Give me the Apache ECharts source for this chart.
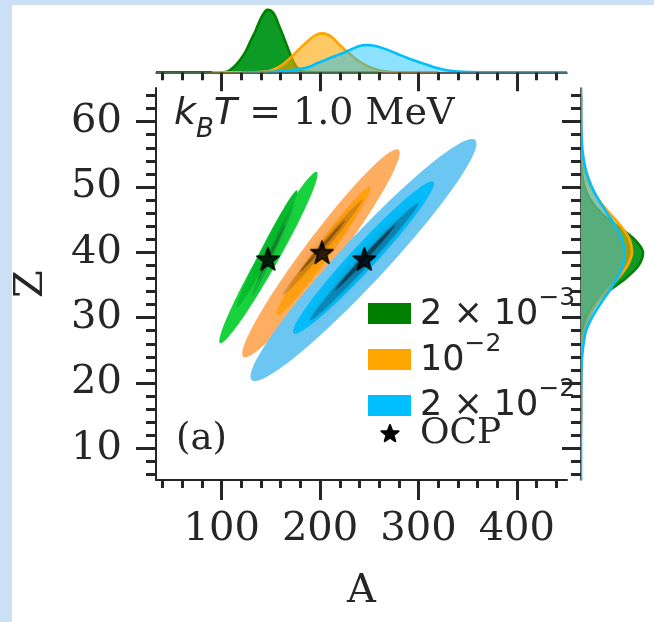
<!DOCTYPE html>
<html>
<head>
<meta charset="utf-8">
<script src="https://cdn.jsdelivr.net/npm/echarts@6/dist/echarts.min.js"></script>
<style>
  html, body { margin: 0; padding: 0; background: #cbe0f5; }
  #chart { width: 654px; height: 622px; }
</style>
</head>
<body>
<div id="chart"></div>
<script>
// ---------------- data ----------------
// axis extents (mass number A, charge Z)
const aRange = [33.2, 451];
const zRange = [5.15, 65.15];

// tick marks
const aMajorTicks = [100, 200, 300, 400];
const aMinorTicks = [40, 60, 80, 120, 140, 160, 180, 220, 240, 260, 280, 320, 340, 360, 380, 420, 440];
const zMajorTicks = [10, 20, 30, 40, 50, 60];
const zMinorTicks = [6, 8, 12, 14, 16, 18, 22, 24, 26, 28, 32, 34, 36, 38, 42, 44, 46, 48, 52, 54, 56, 58, 62, 64];

// series names and colours (2e-3, 1e-2, 2e-2)
const seriesNames = ['2e-3', '1e-2', '2e-2'];
const seriesColors = ['#008000', '#ffa500', '#00bfff'];

// OCP reference nuclei
const ocpA = [147, 202, 245];
const ocpZ = [39, 40, 39];

// KDE contour extents: each level is [A_low, Z_low, A_high, Z_high] along the long axis, outer -> inner
const contoursGreen  = [[98.3, 26.1, 196.7, 52.3], [115.6, 31.6, 176.6, 49.5], [130.9, 33.3, 172.6, 47.2], [137.0, 35.8, 164.4, 44.2]];
const contoursOrange = [[122.0, 24.0, 279.7, 55.7], [156.0, 30.4, 250.9, 50.0], [162.4, 33.5, 242.8, 48.0], [179.7, 37.0, 225.5, 44.9]];
const contoursBlue   = [[130.5, 20.45, 357.7, 57.2], [172.9, 27.6, 315.3, 50.8], [189.9, 29.6, 299.7, 47.5], [215.3, 34.2, 276.3, 44.2]];

// marginal density of A (per mille)
const margAGreenA  = [33.2, 100, 106, 112, 118, 124, 130, 134, 138, 142, 146, 150, 154, 158, 162, 168, 172, 176, 182, 190, 200, 260];
const margAGreenD  = [0, 0, 0.4, 2.6, 6.0, 10.5, 17.0, 21.0, 26.0, 30.0, 32.5, 32.0, 29.5, 24.5, 19.5, 11.5, 6.5, 2.8, 0.6, 0.1, 0, 0];
const margAOrangeA = [90, 130, 140, 150, 160, 170, 180, 190, 195, 201.5, 208, 213, 218, 224, 230, 236, 243, 250, 260, 270, 280, 320];
const margAOrangeD = [0, 0, 0.3, 1.0, 3.3, 7.6, 12.6, 17.3, 19.2, 20.2, 19.5, 17.8, 15.1, 12.3, 9.7, 7.0, 4.7, 2.8, 1.1, 0.3, 0, 0];
const margABlueA   = [120, 150, 165, 180, 190, 197, 205, 215, 223, 232, 240, 246.5, 255, 265, 277, 290, 304, 315, 325, 335, 345, 360, 451];
const margABlueD   = [0, 0.2, 0.7, 1.8, 3.0, 4.7, 6.3, 8.5, 9.9, 12.0, 13.6, 14.2, 13.8, 12.3, 9.9, 7.2, 4.7, 2.8, 1.5, 0.6, 0.2, 0, 0];

// marginal density of Z (per mille)
const margZGreenZ  = [14, 20, 26, 28, 30, 32, 34, 36, 38, 40, 42, 44, 46, 48, 50, 52, 54, 58, 64];
const margZGreenD  = [0, 0, 0.6, 2.2, 6.5, 17, 37, 61, 79, 85, 73, 50, 28, 13, 5, 1.5, 0.4, 0, 0];
const margZOrangeZ = [12, 20, 24, 26, 28, 30, 32, 34, 36, 38, 40, 42, 44, 46, 48, 50, 52, 54, 56, 58, 62, 65.15];
const margZOrangeD = [0, 0, 0.6, 1.8, 4.7, 10.7, 20.4, 34.5, 50.5, 63.8, 69.9, 66.5, 54.8, 39, 24.5, 13.1, 6.1, 2.5, 0.9, 0.3, 0, 0];
const margZBlueZ   = [5.15, 18, 20, 22, 24, 26, 28, 30, 32, 34, 36, 38, 40, 42, 44, 46, 48, 50, 52, 54, 56, 58, 60, 62, 65.15];
const margZBlueD   = [0, 0, 0.2, 0.6, 1.5, 3.5, 7.0, 15.0, 26.0, 38.2, 49.4, 57.4, 60, 56.2, 47.4, 35.8, 24.3, 14.9, 8.1, 4.0, 1.7, 0.7, 0.2, 0, 0];

// ---------------- styles ----------------
const ink = '#262626';
const serif = 'DejaVu Serif';
const sans = 'DejaVu Sans';
const contourFills = [
  ['#17d13d', '#05bd2d', 'rgba(30,100,45,0.28)', 'rgba(25,60,35,0.4)'],
  ['#ffad60', '#ffa010', 'rgba(120,75,20,0.28)', 'rgba(60,35,10,0.45)'],
  ['#6cc6f2', '#05bcf8', 'rgba(20,60,85,0.35)', 'rgba(10,25,35,0.55)']
];
const contourRatios = [
  [0.10, 0.075, 0.055, 0.042],
  [0.13, 0.10, 0.06, 0.047],
  [0.14, 0.12, 0.065, 0.05]
];
const kdeFills = ['rgba(0,150,25,0.95)', 'rgba(255,165,0,0.6)', 'rgba(0,191,255,0.45)'];
const starPath = 'path://M50,2 L61.8,36.2 L97.6,36.6 L69,58.2 L79.6,92.4 L50,71.8 L20.4,92.4 L31,58.2 L2.4,36.6 L38.2,36.2 Z';

// five-pointed star outline centred on (cx, cy)
function starPoints(cx, cy, r) {
  const pts = [];
  for (let k = 0; k < 10; k++) {
    const rr = k % 2 === 0 ? r : r * 0.42;
    const t = -Math.PI / 2 + k * Math.PI / 5;
    pts.push([cx + rr * Math.cos(t), cy + rr * Math.sin(t)]);
  }
  return pts;
}

// ---------------- helpers ----------------
function contourSeries(levels, idx) {
  return {
    type: 'custom', name: seriesNames[idx], coordinateSystem: 'cartesian2d',
    xAxisIndex: 0, yAxisIndex: 0, silent: true, clip: true, z: 2 + idx,
    data: levels,
    renderItem(params, api) {
      const i = params.dataIndex;
      const p1 = api.coord([api.value(0), api.value(1)]);
      const p2 = api.coord([api.value(2), api.value(3)]);
      const cx = (p1[0] + p2[0]) / 2, cy = (p1[1] + p2[1]) / 2;
      const dx = p2[0] - p1[0], dy = p2[1] - p1[1];
      const len = Math.hypot(dx, dy);
      const ux = dx / len, uy = dy / len;
      const a = len / 2, b = a * contourRatios[idx][i];
      const pts = [];
      for (let k = 0; k < 120; k++) {
        const t = k / 120 * Math.PI * 2;
        const c = Math.cos(t), s = Math.sin(t);
        pts.push([cx + ux * a * c - uy * b * s, cy + uy * a * c + ux * b * s]);
      }
      const fill = contourFills[idx][i];
      const style = { fill };
      if (i >= 2) { style.shadowBlur = 8; style.shadowColor = fill; }
      return { type: 'polygon', shape: { points: pts }, style };
    }
  };
}

function kdeSeries(pos, dens, horizontal, xi, yi, idx) {
  const data = pos.map((p, i) => horizontal ? [dens[i], p] : [p, dens[i]]);
  return {
    type: 'custom', name: seriesNames[idx], coordinateSystem: 'cartesian2d',
    xAxisIndex: xi, yAxisIndex: yi, silent: true, clip: true, z: 2 + idx,
    data,
    renderItem(params, api) {
      if (params.dataIndex !== 0) return null;
      const pts = data.map(d => api.coord(d));
      let mn = [Infinity, Infinity], mx = [-Infinity, -Infinity];
      pts.forEach(p => { mn = [Math.min(mn[0], p[0]), Math.min(mn[1], p[1])]; mx = [Math.max(mx[0], p[0]), Math.max(mx[1], p[1])]; });
      const box = [mn, mx];
      return {
        type: 'group', children: [
          { type: 'polygon', shape: { points: pts, smooth: 0.35, smoothConstraint: box }, style: { fill: kdeFills[idx] } },
          { type: 'polyline', shape: { points: pts, smooth: 0.35, smoothConstraint: box }, style: { stroke: seriesColors[idx], lineWidth: 2.6, fill: null } }
        ]
      };
    }
  };
}

function tickAxis(extra) {
  return Object.assign({
    type: 'value', splitLine: { show: false },
    axisLine: { show: false }, axisLabel: { show: false }
  }, extra);
}

// ---------------- chart ----------------
const chart = echarts.init(document.getElementById('chart'), null, { renderer: 'canvas', width: 654, height: 622 });

const labelStyle = { fontFamily: serif, fontSize: 40, color: ink };

const option = {
  backgroundColor: '#cbe0f5',
  animation: false,
  grid: [
    { left: 156, top: 88, width: 411, height: 392 },   // joint
    { left: 156, top: 4.3, width: 411, height: 68 },   // marginal A
    { left: 581, top: 88, width: 80, height: 392 }     // marginal Z
  ],
  xAxis: [
    tickAxis({ gridIndex: 0, min: aRange[0], max: aRange[1], position: 'bottom',
      axisLine: { show: true, lineStyle: { color: ink, width: 2 } },
      axisTick: { customValues: aMajorTicks, length: 20, lineStyle: { color: ink, width: 3 } },
      axisLabel: { show: true, customValues: aMajorTicks, margin: 30, ...labelStyle },
      name: 'A', nameLocation: 'middle', nameGap: 92,
      nameTextStyle: { fontFamily: serif, fontSize: 40, color: ink } }),
    tickAxis({ gridIndex: 0, min: aRange[0], max: aRange[1], position: 'bottom',
      axisTick: { customValues: aMinorTicks, length: 8, lineStyle: { color: ink, width: 3 } } }),
    tickAxis({ gridIndex: 1, min: aRange[0], max: aRange[1], position: 'bottom',
      axisLine: { show: true, lineStyle: { color: ink, width: 1.5 } },
      axisTick: { customValues: aMajorTicks, length: 19, lineStyle: { color: ink, width: 3 } } }),
    tickAxis({ gridIndex: 1, min: aRange[0], max: aRange[1], position: 'bottom',
      axisTick: { customValues: aMinorTicks, length: 8, lineStyle: { color: ink, width: 3 } } }),
    { type: 'value', gridIndex: 2, min: 0, max: 100, show: false }
  ],
  yAxis: [
    tickAxis({ gridIndex: 0, min: zRange[0], max: zRange[1], position: 'left',
      axisLine: { show: true, lineStyle: { color: ink, width: 2 } },
      axisTick: { customValues: zMajorTicks, length: 20, lineStyle: { color: ink, width: 3 } },
      axisLabel: { show: true, customValues: zMajorTicks, margin: 34, ...labelStyle },
      name: 'Z', nameLocation: 'middle', nameGap: 104, nameRotate: 90,
      nameTextStyle: { fontFamily: serif, fontSize: 40, color: ink } }),
    tickAxis({ gridIndex: 0, min: zRange[0], max: zRange[1], position: 'left',
      axisTick: { customValues: zMinorTicks, length: 10, lineStyle: { color: ink, width: 3 } } }),
    { type: 'value', gridIndex: 1, min: 0, max: 35.3, show: false },
    tickAxis({ gridIndex: 2, min: zRange[0], max: zRange[1], position: 'left',
      axisLine: { show: true, lineStyle: { color: ink, width: 1.5 } },
      axisTick: { customValues: zMajorTicks, length: 19, lineStyle: { color: ink, width: 3 } } }),
    tickAxis({ gridIndex: 2, min: zRange[0], max: zRange[1], position: 'left',
      axisTick: { customValues: zMinorTicks, length: 10, lineStyle: { color: ink, width: 3 } } })
  ],
  series: [
    contourSeries(contoursGreen, 0),
    contourSeries(contoursOrange, 1),
    contourSeries(contoursBlue, 2),
    {
      type: 'scatter', name: 'OCP', xAxisIndex: 0, yAxisIndex: 0, z: 10, silent: true,
      symbol: starPath, symbolSize: 22,
      itemStyle: { color: '#000', borderColor: '#000', borderWidth: 2, borderJoin: 'round' },
      data: ocpA.map((a, i) => [a, ocpZ[i]])
    },
    kdeSeries(margAGreenA, margAGreenD, false, 2, 2, 0),
    kdeSeries(margAOrangeA, margAOrangeD, false, 2, 2, 1),
    kdeSeries(margABlueA, margABlueD, false, 2, 2, 2),
    kdeSeries(margZGreenZ, margZGreenD, true, 4, 3, 0),
    kdeSeries(margZOrangeZ, margZOrangeD, true, 4, 3, 1),
    kdeSeries(margZBlueZ, margZBlueD, true, 4, 3, 2)
  ],
  graphic: [
    { type: 'rect', z: -10, silent: true, shape: { x: 12, y: 5, width: 642, height: 617 }, style: { fill: '#ffffff' } },
    { type: 'text', z: 20, silent: true, x: 174, y: 114,
      style: {
        text: '{it|k}{sub|B}{it|T}{eq| = }{rm|1.0 MeV}', verticalAlign: 'middle', fill: ink,
        rich: {
          it: { fontFamily: sans, fontStyle: 'italic', fontSize: 38, lineHeight: 58, verticalAlign: 'middle', fill: ink },
          sub: { fontFamily: sans, fontStyle: 'italic', fontSize: 26, verticalAlign: 'bottom', fill: ink },
          eq: { fontFamily: sans, fontSize: 38, lineHeight: 58, verticalAlign: 'middle', fill: ink },
          rm: { fontFamily: serif, fontSize: 38, lineHeight: 58, verticalAlign: 'middle', fill: ink }
        }
      } },
    { type: 'text', z: 20, silent: true, x: 176, y: 439,
      style: { text: '(a)', font: '37px "DejaVu Serif"', fill: ink, verticalAlign: 'middle' } },
    // legend
    { type: 'rect', z: 20, silent: true, shape: { x: 368, y: 303, width: 43, height: 21 }, style: { fill: seriesColors[0] } },
    { type: 'rect', z: 20, silent: true, shape: { x: 368, y: 349, width: 43, height: 21 }, style: { fill: seriesColors[1] } },
    { type: 'rect', z: 20, silent: true, shape: { x: 368, y: 395, width: 43, height: 21 }, style: { fill: seriesColors[2] } },
    { type: 'polygon', z: 20, silent: true,
      shape: { points: starPoints(390, 434, 9) },
      style: { fill: '#000', stroke: '#000', lineWidth: 2, lineJoin: 'round' } },
    ...[
      ['{n|2 × 10}{sup|−3}', 309],
      ['{n|10}{sup|−2}', 355],
      ['{n|2 × 10}{sup|−2}', 400]
    ].map(([t, y]) => ({
      type: 'text', z: 20, silent: true, x: 420, y,
      style: {
        text: t, verticalAlign: 'middle', fill: ink,
        rich: {
          n: { fontFamily: sans, fontSize: 35, lineHeight: 46, verticalAlign: 'bottom', fill: ink },
          sup: { fontFamily: sans, fontSize: 25, verticalAlign: 'top', fill: ink }
        }
      }
    })),
    { type: 'text', z: 20, silent: true, x: 420, y: 434,
      style: { text: 'OCP', font: '36px "DejaVu Serif"', fill: ink, verticalAlign: 'middle' } }
  ]
};

chart.setOption(option);
</script>
</body>
</html>
